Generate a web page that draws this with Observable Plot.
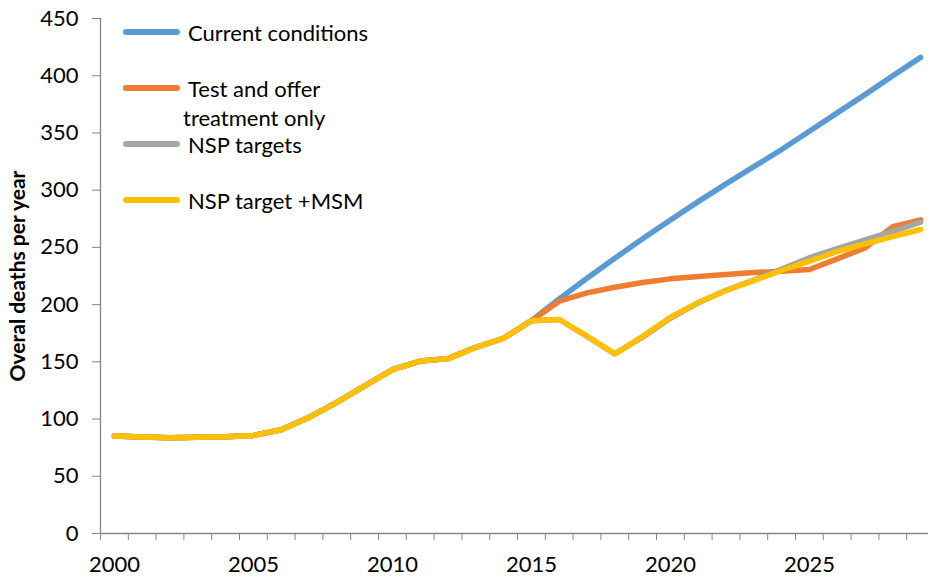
<!DOCTYPE html>
<html><head><meta charset="utf-8">
<script src="https://cdn.jsdelivr.net/npm/d3@7"></script>
<script src="https://cdn.jsdelivr.net/npm/@observablehq/plot@0.6"></script>
<style>
body{margin:0;background:#fff;}
#wrap{position:relative;width:928px;height:577px;overflow:hidden;font-family:Lato,sans-serif;background:#fff;}
#wrap svg{position:absolute;left:0;top:0;}
.legtxt{position:absolute;font-size:22px;color:#000;line-height:29px;text-align:center;white-space:nowrap;}
.sw{position:absolute;height:6px;border-radius:3px;width:57px;left:123px;}
</style></head><body><div id="wrap"></div>
<script>
const years = [2000,2001,2002,2003,2004,2005,2006,2007,2008,2009,2010,2011,2012,2013,2014,2015,
               2016,2017,2018,2019,2020,2021,2022,2023,2024,2025,2026,2027,2028,2029];
const xLabelYears = [2000,2005,2010,2015,2020,2025];
const yTicks = [0,50,100,150,200,250,300,350,400,450];
const seriesNames = ["Current conditions","Test and offer treatment only","NSP targets","NSP target +MSM"];
const legendLabels = ["Current conditions","Test and offer<br>treatment only","NSP targets","NSP target +MSM"];
const colors = ["#5B9BD5","#ED7D31","#A5A5A5","#FFC000"];

// 2000-2015 shared history
const history = [85.1,84.3,83.7,84.0,84.5,85.7,90.7,101.5,114.6,128.9,143.1,150.7,152.8,162.7,170.6,186];
const currentConditions = [...history, 205,223,240.5,257.5,274,290,305.5,320.5,335.5,351.5,367.5,383.5,400,416];
const testAndOffer      = [...history, 203,210.3,215.2,219.3,222.5,224.6,226.3,228,229.2,230.7,240,249.5,268,274];
const nspTargets        = [...history, 187,172.2,157,171.5,188,201.5,212.5,221.5,231,241,249,256.5,264,272];
const nspTargetMSM      = [...history, 187,172.4,157,172.4,189,202,212.3,221,229.8,238,246.4,253,259.5,265.6];
const seriesValues = [currentConditions, testAndOffer, nspTargets, nspTargetMSM];

const data = [];
seriesValues.forEach((vals, i) => vals.forEach((v, j) => data.push({year: years[j], value: v, series: seriesNames[i]})));
const boundaries = years.map(y => y - 0.5).concat([years[years.length - 1] + 0.5]);

const chart = Plot.plot({
  width: 928, height: 577,
  marginLeft: 100, marginRight: 0, marginTop: 18, marginBottom: 44,
  style: {fontFamily: "Lato, sans-serif", fontSize: "22px", color: "#000", background: "transparent", overflow: "visible"},
  x: {domain: [boundaries[0], boundaries[boundaries.length - 1]], range: [100, 934]},
  y: {domain: [0, 450]},
  color: {domain: seriesNames, range: colors},
  marks: [
    Plot.ruleY([0], {stroke: "#868686", strokeWidth: 1.3}),
    Plot.ruleX([boundaries[0]], {stroke: "#868686", strokeWidth: 1.3}),
    Plot.axisY({ticks: yTicks, tickSize: 8, tickPadding: 14, stroke: "#868686", fill: "#000", label: null}),
    Plot.axisX({ticks: boundaries, tickSize: 7, tickFormat: () => "", stroke: "#868686", label: null}),
    Plot.axisX({ticks: xLabelYears, tickSize: 0, tickPadding: 23, tickFormat: d => String(d), fill: "#000", label: null}),
    Plot.text(["Overal deaths per year"], {frameAnchor: "left", textAnchor: "middle", rotate: -90, dx: -82,
                                           fontWeight: "bold", fontSize: 21, fill: "#000"}),
    Plot.line(data, {x: "year", y: "value", stroke: "series", z: "series", strokeWidth: 5.5,
                     strokeLinejoin: "round", strokeLinecap: "round"})
  ]
});
const wrap = document.getElementById("wrap");
wrap.appendChild(chart);

// legend (inside plot area, top-left)
const legendRows = [32, 88, 144, 200];
const legendTextLeft = [188, 183, 188, 188];
seriesNames.forEach((name, i) => {
  const sw = document.createElement("div");
  sw.className = "sw";
  sw.style.top = (legendRows[i] - 3) + "px";
  sw.style.background = colors[i];
  wrap.appendChild(sw);
  const t = document.createElement("div");
  t.className = "legtxt";
  t.style.top = (legendRows[i] - 14.5) + "px";
  t.style.left = legendTextLeft[i] + "px";
  t.innerHTML = legendLabels[i];
  wrap.appendChild(t);
});
</script></body></html>
